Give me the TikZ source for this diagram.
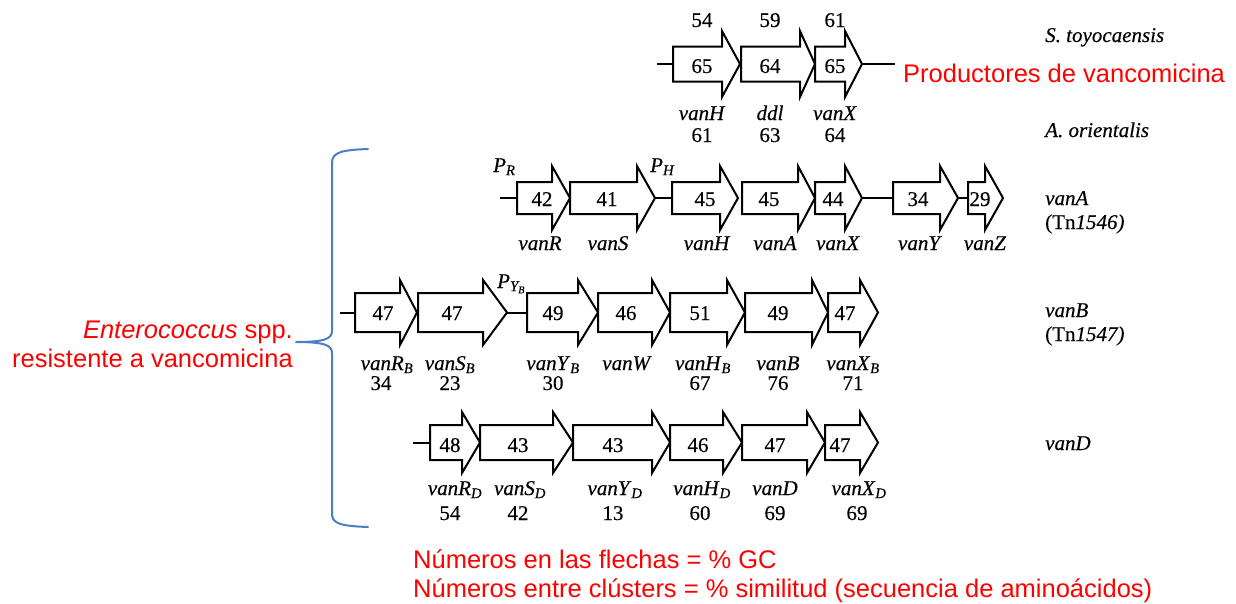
\documentclass[tikz,border=0pt]{standalone}
\usepackage{fontspec}
\setmainfont{Liberation Serif}[FakeBold=0.4]
\newfontfamily\arialfont{Liberation Sans}
\definecolor{bracecol}{RGB}{74,126,193}
\definecolor{notered}{RGB}{255,0,0}

% one gene drawn as a block arrow; row settings come from \gy, \gbh, \ghh, \gnb
% #1 name, #2 left x, #3 head base x, #4 tip x, #5 x of GC value, #6 GC value
\newcommand\gene[6]{%
  \draw[genebox] (#2,\gy-\gbh) -- (#3,\gy-\gbh) -- (#3,\gy-\ghh) -- (#4,\gy)
     -- (#3,\gy+\ghh) -- (#3,\gy+\gbh) -- (#2,\gy+\gbh) -- cycle;
  \coordinate (#1-l) at (#2,\gy);
  \coordinate (#1-r) at (#4,\gy);
  \node[lbl] (#1-gc) at (#5,\gnb) {#6};
}
\newcommand\gi[1]{\textit{#1}}
\newcommand\gsub[1]{\textsubscript{\textit{#1}}}

\begin{document}
\begin{tikzpicture}[x=1pt,y=-1pt,
  genebox/.style={draw=black,line width=2pt,line join=miter,fill=white},
  dna/.style={line width=2pt},
  lbl/.style={inner sep=0pt,anchor=base,font=\fontsize{21}{24}\selectfont},
  side/.style={inner sep=0pt,anchor=base west,font=\fontsize{21}{24}\selectfont},
  note/.style={inner sep=0pt,text=notered,font=\arialfont\fontsize{25.5}{30}\selectfont},
  brace/.style={draw=bracecol,line width=2pt,line cap=round,line join=round}]
\useasboundingbox (0,0) rectangle (1236,603);

% ---------- S. toyocaensis / A. orientalis ----------
\def\gy{64}\def\gbh{17.5}\def\ghh{33}\def\gnb{73}
\gene{tH}{673}{722}{740}{702}{65}
\gene{tD}{741}{800}{815}{770}{64}
\gene{tX}{815}{845}{862}{835}{65}
\coordinate (t0) at (657,64);
\coordinate (t1) at (895,64);
\draw[dna] (t0) -- (tH-l);
\draw[dna] (tX-r) -- (t1);
\node[lbl] (tu1) at (702,27) {54};
\node[lbl] (tu2) at (770,27) {59};
\node[lbl] (tu3) at (835,27) {61};
\node[lbl] (tn1) at (702,120) {\gi{vanH}};
\node[lbl] (tn2) at (770,120) {\gi{ddl}};
\node[lbl] (tn3) at (835,120) {\gi{vanX}};
\node[lbl] (tl1) at (702,142) {61};
\node[lbl] (tl2) at (770,142) {63};
\node[lbl] (tl3) at (835,142) {64};

% ---------- vanA (Tn1546) ----------
\def\gy{198}\def\gbh{16}\def\ghh{32}\def\gnb{206}
\gene{aR}{517}{552}{570}{542}{42}
\gene{aS}{570}{637}{655}{607}{41}
\gene{aH}{672}{720}{738}{705}{45}
\gene{aA}{742}{798}{815}{769}{45}
\gene{aX}{815}{845}{862}{833}{44}
\gene{aY}{893}{940}{958}{918}{34}
\gene{aZ}{968}{985}{1003}{980}{29}
\coordinate (a0) at (500,198);
\draw[dna] (a0) -- (aR-l);
\draw[dna] (aS-r) -- (aH-l);
\draw[dna] (aX-r) -- (aY-l);
\draw[dna] (aY-r) -- (aZ-l);
\node[side] (pR) at (493,172) {\gi{P}\gsub{R}};
\node[side] (pH) at (650,172) {\gi{P}\gsub{H}};
\node[lbl] (an1) at (540,250) {\gi{vanR}};
\node[lbl] (an2) at (608,250) {\gi{vanS}};
\node[lbl] (an3) at (707,250) {\gi{vanH}};
\node[lbl] (an4) at (775,250) {\gi{vanA}};
\node[lbl] (an5) at (838,250) {\gi{vanX}};
\node[lbl] (an6) at (920,250) {\gi{vanY}};
\node[lbl] (an7) at (985,250) {\gi{vanZ}};

% ---------- vanB (Tn1547) ----------
\def\gy{312.5}\def\gbh{19.5}\def\ghh{32.5}\def\gnb{320}
\gene{bR}{355}{400}{417}{383}{47}
\gene{bS}{418}{483}{507}{452}{47}
\gene{bY}{527}{578}{598}{553}{49}
\gene{bW}{598}{652}{670}{626}{46}
\gene{bH}{670}{727}{745}{700}{51}
\gene{bB}{745}{812}{828}{778}{49}
\gene{bX}{828}{860}{878}{845}{47}
\coordinate (b0) at (340,312.5);
\draw[dna] (b0) -- (bR-l);
\draw[dna] (bS-r) -- (bY-l);
\node[side] (pY) at (497,288) {\gi{P}\gsub{Y\textsubscript{B}}};
\node[lbl] (bn1) at (387,370) {\gi{vanR}\gsub{B}};
\node[lbl] (bn2) at (450,370) {\gi{vanS}\gsub{B}};
\node[lbl] (bn3) at (553,370) {\gi{vanY}\gsub{B}};
\node[lbl] (bn4) at (627,370) {\gi{vanW}};
\node[lbl] (bn5) at (703,370) {\gi{vanH}\gsub{B}};
\node[lbl] (bn6) at (778,370) {\gi{vanB}};
\node[lbl] (bn7) at (853,370) {\gi{vanX}\gsub{B}};
\node[lbl] (bl1) at (381,390) {34};
\node[lbl] (bl2) at (450,390) {23};
\node[lbl] (bl3) at (553,390) {30};
\node[lbl] (bl4) at (700,390) {67};
\node[lbl] (bl5) at (778,390) {76};
\node[lbl] (bl6) at (853,390) {71};

% ---------- vanD ----------
\def\gy{442.5}\def\gbh{17.5}\def\ghh{30.5}\def\gnb{452}
\gene{dR}{430}{462}{480}{450}{48}
\gene{dS}{480}{553}{573}{518}{43}
\gene{dY}{573}{652}{670}{613}{43}
\gene{dH}{670}{723}{742}{698}{46}
\gene{dD}{742}{807}{825}{775}{47}
\gene{dX}{825}{860}{878}{840}{47}
\coordinate (d0) at (413,442.5);
\draw[dna] (d0) -- (dR-l);
\node[lbl] (dn1) at (455,495) {\gi{vanR}\gsub{D}};
\node[lbl] (dn2) at (520,495) {\gi{vanS}\gsub{D}};
\node[lbl] (dn3) at (615,495) {\gi{vanY}\gsub{D}};
\node[lbl] (dn4) at (702,495) {\gi{vanH}\gsub{D}};
\node[lbl] (dn5) at (775,495) {\gi{vanD}};
\node[lbl] (dn6) at (859,495) {\gi{vanX}\gsub{D}};
\node[lbl] (dl1) at (450,520) {54};
\node[lbl] (dl2) at (518,520) {42};
\node[lbl] (dl3) at (613,520) {13};
\node[lbl] (dl4) at (700,520) {60};
\node[lbl] (dl5) at (775,520) {69};
\node[lbl] (dl6) at (857,520) {69};

% ---------- cluster names ----------
\node[side] (s1) at (1045,42) {\gi{S. toyocaensis}};
\node[side] (s2) at (1045,137) {\gi{A. orientalis}};
\node[side] (s3) at (1045,205) {\gi{vanA}};
\node[side] (s4) at (1045,229) {(Tn\gi{1546)}};
\node[side] (s5) at (1045,317) {\gi{vanB}};
\node[side] (s6) at (1045,341) {(Tn\gi{1547)}};
\node[side] (s7) at (1045,450) {\gi{vanD}};

% ---------- notes ----------
\node[note,anchor=base west] (prod) at (903,82) {Productores de vancomicina};
\node[note,anchor=base east] (ent1) at (293,338) {\textit{Enterococcus} spp.};
\node[note,anchor=base east] (ent2) at (293,367) {resistente a vancomicina};
\node[note,anchor=base west] (key1) at (413,568) {Números en las flechas = \% GC};
\node[note,anchor=base west] (key2) at (413,597) {Números entre clústers = \% similitud (secuencia de aminoácidos)};

% brace grouping the Enterococcus clusters
\coordinate (brTop) at (368,149);
\coordinate (brTip) at (296,342);
\coordinate (brBot) at (368,527);
\draw[brace] (brTop) .. controls (342,150) and (332,152) .. (332,163)
  -- (332,331) .. controls (332,339) and (324,342) .. (brTip)
  .. controls (324,342) and (332,345) .. (332,353)
  -- (332,514) .. controls (332,524) and (342,526) .. (brBot);
\end{tikzpicture}
\end{document}
